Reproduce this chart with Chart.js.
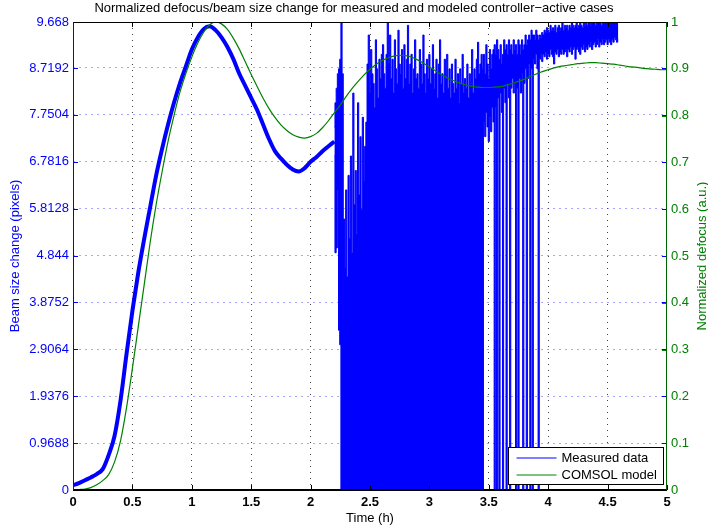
<!DOCTYPE html>
<html>
<head>
<meta charset="utf-8">
<title>Normalized defocus / beam size change</title>
<script src="https://cdn.jsdelivr.net/npm/chart.js@4.4.1/dist/chart.umd.min.js"></script>
<style>
  html, body { margin: 0; padding: 0; background: #fff; }
  canvas { display: block; }
</style>
</head>
<body>
<canvas id="defocusChart" width="708" height="526"></canvas>
<script>
// axis ticks
const timeTicks = [0, 0.5, 1, 1.5, 2, 2.5, 3, 3.5, 4, 4.5, 5];
const beamTicks = [0, 0.9688, 1.9376, 2.9064, 3.8752, 4.844, 5.8128, 6.7816, 7.7504, 8.7192, 9.668];
const defocusTicks = [0, 0.1, 0.2, 0.3, 0.4, 0.5, 0.6, 0.7, 0.8, 0.9, 1];

// measured beam size change (pixels), calm part up to 2.2 h
const measuredTime = [0, 0.05, 0.1, 0.15, 0.2, 0.25, 0.3, 0.35, 0.4, 0.45,
  0.5, 0.55, 0.6, 0.65, 0.7, 0.75, 0.8, 0.85, 0.9, 0.95,
  1, 1.05, 1.1, 1.15, 1.2, 1.25, 1.3, 1.35, 1.4, 1.45,
  1.5, 1.55, 1.6, 1.65, 1.7, 1.75, 1.8, 1.85, 1.9, 1.95,
  2, 2.05, 2.1, 2.15, 2.2];
const measuredBeam = [0.1, 0.14, 0.2, 0.26, 0.33, 0.43, 0.72, 1.12, 1.85, 2.8,
  3.7, 4.5, 5.2, 5.85, 6.5, 7.05, 7.55, 8.0, 8.4, 8.75,
  9.1, 9.35, 9.52, 9.58, 9.5, 9.35, 9.15, 8.9, 8.6, 8.35,
  8.1, 7.85, 7.55, 7.25, 7.0, 6.85, 6.72, 6.62, 6.58, 6.65,
  6.78, 6.88, 7.0, 7.1, 7.2];

// measured data after 2.2 h: [min, max] of the trace in each 0.01 h slot
const noisyStart = 2.2;
const noisyStep = 0.01;
const noisyRange = [
  // 2.20 - 2.26
  [6.9,7.5],[4.9,8.0],[5.0,8.3],[6.2,8.6],[3.3,8.7],[3.0,8.9],[0,9.67],
  // 2.27 - 2.47
  [0,8.6],[0,5.6],[0,4.6],[0,6.2],[0,4.4],[0,6.5],[0,5.2],[0,6.9],[0,4.9],[0,8.2],
  [0,5.9],[0,6.6],[0,5.3],[0,8.0],[0,6.1],[0,7.3],[0,5.8],[0,7.7],[0,6.4],[0,7.1],[0,7.6],
  // 2.48 - 2.60
  [0,8.8],[0,9.4],[0,8.2],[0,9.1],[0,8.6],[0,8.4],[0,7.9],[0,9.3],[0,8.7],[0,8.1],[0,8.9],[0,8.5],[0,9.0],
  // 2.61 - 2.70
  [0,9.2],[0,8.6],[0,8.3],[0,9.0],[0,9.67],[0,8.8],[0,9.4],[0,8.5],[0,8.9],[0,8.2],
  // 2.71 - 2.80
  [0,9.3],[0,8.7],[0,8.4],[0,9.5],[0,8.8],[0,8.6],[0,9.1],[0,8.3],[0,9.2],[0,8.5],
  // 2.81 - 2.90
  [0,8.9],[0,9.6],[0,8.4],[0,8.8],[0,9.0],[0,8.2],[0,8.7],[0,9.3],[0,8.5],[0,8.6],
  // 2.91 - 3.00
  [0,8.3],[0,9.1],[0,8.8],[0,8.4],[0,9.4],[0,8.6],[0,8.2],[0,8.9],[0,8.5],[0,9.0],
  // 3.01 - 3.10
  [0,8.4],[0,8.7],[0,9.2],[0,8.3],[0,8.6],[0,8.9],[0,8.1],[0,8.8],[0,9.3],[0,8.4],
  // 3.11 - 3.20
  [0,8.6],[0,8.2],[0,8.9],[0,8.5],[0,9.0],[0,8.3],[0,8.7],[0,8.1],[0,8.8],[0,8.4],
  // 3.21 - 3.30
  [0,8.2],[0,8.9],[0,8.3],[0,8.6],[0,8.0],[0,8.7],[0,8.4],[0,9.0],[0,8.2],[0,8.5],
  // 3.31 - 3.40
  [0,8.3],[0,8.8],[0,8.1],[0,8.6],[0,8.4],[0,9.1],[0,8.2],[0,8.7],[0,8.5],[0,8.9],
  // 3.41 - 3.44
  [0,9.25],[0,8.6],[0,8.8],[0,9.0],
  // 3.45 - 3.53
  [0,8.7],[7.6,9.0],[7.3,8.6],[7.8,9.2],[7.5,8.8],[7.2,8.5],[7.7,9.1],[7.4,8.7],[7.9,9.0],
  // 3.54 - 3.92
  [7.6,9.1],[0,9.2],[7.9,9.0],[0,9.3],[8.1,9.1],[0,8.9],[8.2,9.2],[7.8,8.8],[0,9.0],[8.3,9.3],
  [8.0,9.1],[0,9.2],[8.4,9.0],[8.1,9.3],[0,9.1],[8.3,9.2],[8.5,9.0],[8.2,9.3],[8.4,9.1],[0,9.2],
  [8.3,9.0],[0,9.3],[8.5,9.2],[8.2,9.0],[8.6,9.3],[0,9.1],[8.4,9.2],[8.7,9.4],[0,9.2],[8.5,9.3],
  [8.8,9.4],[0,9.3],[8.7,9.5],[0,9.4],[8.9,9.4],[8.8,9.3],[9.0,9.5],[8.7,9.4],[0,9.3],
  // 3.93 - 4.59
  [8.9,9.4],[9.0,9.35],[8.85,9.45],[9.0,9.4],[8.95,9.5],[9.05,9.45],[8.9,9.55],[9.0,9.5],[8.95,9.45],[9.1,9.6],
  [9.0,9.5],[8.95,9.55],[8.8,9.5],[9.05,9.6],[9.0,9.45],[9.1,9.55],[8.95,9.6],[9.05,9.5],[9.0,9.55],[9.1,9.65],
  [9.0,9.5],[9.05,9.6],[9.1,9.55],[8.95,9.6],[9.1,9.5],[9.05,9.6],[9.15,9.55],[9.0,9.65],[9.1,9.6],[9.15,9.55],
  [8.9,9.6],[9.1,9.65],[9.15,9.55],[9.05,9.6],[9.0,9.65],[9.15,9.6],[9.1,9.55],[9.2,9.65],[9.05,9.6],[9.15,9.67],
  [9.1,9.6],[9.2,9.65],[9.15,9.67],[9.25,9.6],[9.1,9.67],[9.2,9.65],[9.25,9.67],[9.15,9.6],[9.2,9.67],[9.3,9.65],
  [9.15,9.67],[9.25,9.67],[9.2,9.6],[9.3,9.67],[9.2,9.67],[9.25,9.65],[9.3,9.67],[9.2,9.67],[9.3,9.67],[9.25,9.65],
  [9.2,9.67],[9.3,9.67],[9.25,9.67],[9.35,9.67],[9.3,9.65],[9.25,9.67],[9.3,9.67]
];

// COMSOL model, normalized defocus
const modelTime = [0, 0.05, 0.1, 0.15, 0.2, 0.25, 0.3, 0.35, 0.4, 0.45,
  0.5, 0.55, 0.6, 0.65, 0.7, 0.75, 0.8, 0.85, 0.9, 0.95,
  1, 1.05, 1.1, 1.15, 1.2, 1.25, 1.3, 1.35, 1.4, 1.45,
  1.5, 1.55, 1.6, 1.65, 1.7, 1.75, 1.8, 1.85, 1.9, 1.95,
  2, 2.05, 2.1, 2.15, 2.2, 2.25, 2.3, 2.35, 2.4, 2.45,
  2.5, 2.55, 2.6, 2.65, 2.7, 2.75, 2.8, 2.85, 2.9, 2.95,
  3, 3.05, 3.1, 3.15, 3.2, 3.25, 3.3, 3.35, 3.4, 3.45,
  3.5, 3.55, 3.6, 3.65, 3.7, 3.75, 3.8, 3.85, 3.9, 3.95,
  4, 4.05, 4.1, 4.15, 4.2, 4.25, 4.3, 4.35, 4.4, 4.45,
  4.5, 4.55, 4.6, 4.65, 4.7, 4.75, 4.8, 4.85, 4.9, 4.95, 5];
const modelDefocus = [0, 0.001, 0.002, 0.005, 0.011, 0.02, 0.033, 0.06, 0.105, 0.175,
  0.26, 0.35, 0.44, 0.53, 0.61, 0.68, 0.745, 0.8, 0.85, 0.89,
  0.925, 0.955, 0.978, 0.994, 1.0, 0.996, 0.984, 0.965, 0.942, 0.915,
  0.888, 0.862, 0.837, 0.815, 0.796, 0.78, 0.768, 0.759, 0.754, 0.752,
  0.755, 0.762, 0.774, 0.789, 0.806, 0.823, 0.841, 0.858, 0.873, 0.887,
  0.899, 0.909, 0.917, 0.923, 0.927, 0.929, 0.928, 0.925, 0.919, 0.912,
  0.904, 0.896, 0.888, 0.881, 0.875, 0.87, 0.866, 0.863, 0.861, 0.86,
  0.86, 0.861, 0.862, 0.865, 0.869, 0.873, 0.878, 0.884, 0.889, 0.894,
  0.898, 0.902, 0.905, 0.907, 0.909, 0.911, 0.912, 0.913, 0.913, 0.912,
  0.911, 0.91, 0.908, 0.906, 0.904, 0.903, 0.901, 0.9, 0.899, 0.898, 0.898];

const BLUE = '#0000ff';
const GREEN = '#008000';
const FONT = '"Liberation Sans", Arial, Helvetica, sans-serif';

Chart.defaults.font.family = FONT;
Chart.defaults.font.size = 13;

// frame, inward ticks, right axis title and the legend box (matlab look)
const matlabFrame = {
  id: 'matlabFrame',
  afterDraw(chart) {
    const {ctx, chartArea: a, scales} = chart;
    const tick = 5;
    ctx.save();
    ctx.lineWidth = 1;

    // x ticks, bottom and top
    ctx.strokeStyle = '#000';
    timeTicks.forEach(v => {
      const px = Math.round(scales.x.getPixelForValue(v)) + 0.5;
      ctx.beginPath();
      ctx.moveTo(px, a.bottom); ctx.lineTo(px, a.bottom - tick);
      ctx.moveTo(px, a.top); ctx.lineTo(px, a.top + tick);
      ctx.stroke();
    });
    // right axis ticks (green), then left axis ticks on both sides (blue)
    ctx.strokeStyle = GREEN;
    defocusTicks.forEach(v => {
      const py = Math.round(scales.y1.getPixelForValue(v)) + 0.5;
      ctx.beginPath();
      ctx.moveTo(a.right, py); ctx.lineTo(a.right - tick, py);
      ctx.stroke();
    });
    ctx.strokeStyle = BLUE;
    beamTicks.forEach(v => {
      const py = Math.round(scales.y.getPixelForValue(v)) + 0.5;
      ctx.beginPath();
      ctx.moveTo(a.left, py); ctx.lineTo(a.left + tick, py);
      ctx.moveTo(a.right, py); ctx.lineTo(a.right - tick, py);
      ctx.stroke();
    });

    // box
    const L = Math.round(a.left) + 0.5, R = Math.round(a.right) - 0.5;
    const T = Math.round(a.top) + 0.5, B = Math.round(a.bottom);
    ctx.strokeStyle = '#000';
    ctx.beginPath(); ctx.moveTo(L, T); ctx.lineTo(R, T); ctx.stroke();
    ctx.lineWidth = 2;
    ctx.beginPath(); ctx.moveTo(L - 0.5, B); ctx.lineTo(R + 0.5, B); ctx.stroke();
    ctx.lineWidth = 1;
    ctx.strokeStyle = BLUE;
    ctx.beginPath(); ctx.moveTo(L, T); ctx.lineTo(L, B); ctx.stroke();
    ctx.strokeStyle = '#006400';
    ctx.beginPath(); ctx.moveTo(R, T); ctx.lineTo(R, B); ctx.stroke();

    // right axis title, reads bottom to top
    ctx.save();
    ctx.translate(702, (a.top + a.bottom) / 2);
    ctx.rotate(-Math.PI / 2);
    ctx.fillStyle = GREEN;
    ctx.font = '13px ' + FONT;
    ctx.textAlign = 'center';
    ctx.textBaseline = 'middle';
    ctx.fillText('Normalized defocus (a.u.)', 0, 0);
    ctx.restore();

    // legend
    const items = [chart.data.datasets[0], chart.data.datasets[3]];
    const bw = 155, bh = 37;
    const bx = Math.round(a.right - 4 - bw) + 0.5;
    const by = Math.round(a.bottom - 6 - bh) + 0.5;
    ctx.fillStyle = '#fff';
    ctx.fillRect(bx, by, bw, bh);
    ctx.strokeStyle = '#000';
    ctx.strokeRect(bx, by, bw, bh);
    ctx.font = '13px ' + FONT;
    ctx.textAlign = 'left';
    ctx.textBaseline = 'middle';
    items.forEach((ds, i) => {
      const ly = by + 10.5 + i * 17;
      ctx.strokeStyle = ds.borderColor;
      ctx.beginPath(); ctx.moveTo(bx + 8, ly); ctx.lineTo(bx + 48, ly); ctx.stroke();
      ctx.fillStyle = '#000';
      ctx.fillText(ds.label, bx + 53, ly);
    });
    ctx.restore();
  }
};

const edgeless = (color) => (c) =>
  (c.index === 0 || c.index === c.scale.ticks.length - 1) ? 'rgba(0,0,0,0)' : color;

const noisyPoints = (k) => noisyRange.map((r, i) => ({x: noisyStart + i * noisyStep, y: r[k]}));

new Chart(document.getElementById('defocusChart'), {
  type: 'line',
  data: {
    datasets: [
      {
        label: 'Measured data',
        data: measuredTime.map((t, i) => ({x: t, y: measuredBeam[i]})),
        borderColor: BLUE,
        borderWidth: 4,
        pointRadius: 0,
        cubicInterpolationMode: 'monotone',
        yAxisID: 'y',
        order: 3
      },
      {
        // upper edge of the noisy trace, filled down to the lower edge
        label: 'Measured data (max)',
        data: noisyPoints(1),
        borderColor: BLUE,
        backgroundColor: BLUE,
        borderWidth: 1,
        pointRadius: 0,
        stepped: 'middle',
        fill: '+1',
        yAxisID: 'y',
        order: 2
      },
      {
        label: 'Measured data (min)',
        data: noisyPoints(0),
        borderColor: BLUE,
        borderWidth: 1,
        pointRadius: 0,
        stepped: 'middle',
        fill: false,
        yAxisID: 'y',
        order: 1
      },
      {
        label: 'COMSOL model',
        data: modelTime.map((t, i) => ({x: t, y: modelDefocus[i]})),
        borderColor: GREEN,
        borderWidth: 1.2,
        pointRadius: 0,
        cubicInterpolationMode: 'monotone',
        yAxisID: 'y1',
        order: 0
      }
    ]
  },
  options: {
    responsive: false,
    animation: false,
    devicePixelRatio: 1,
    events: [],
    layout: { padding: 0 },
    plugins: {
      legend: { display: false },
      tooltip: { enabled: false },
      title: {
        display: true,
        text: 'Normalized defocus/beam size change for measured and modeled controller\u2212active cases',
        color: '#000',
        font: { size: 13, weight: 'normal' },
        padding: { top: 1, bottom: 5.4 }
      }
    },
    scales: {
      x: {
        type: 'linear',
        min: 0,
        max: 5,
        offset: false,
        afterBuildTicks: s => { s.ticks = timeTicks.map(v => ({value: v})); },
        afterFit: s => { s.height = 36; },
        ticks: {
          color: '#000',
          font: { weight: 'bold' },
          padding: 5,
          maxRotation: 0,
          autoSkip: false,
          callback: v => String(v)
        },
        grid: { drawTicks: false, color: edgeless('rgba(0,0,0,0.75)'), borderDash: [1, 5] },
        border: { display: false, dash: [1, 5] },
        title: { display: true, text: 'Time (h)', color: '#000', padding: { top: 0, bottom: 0 } }
      },
      y: {
        type: 'linear',
        position: 'left',
        min: 0,
        max: 9.668,
        afterBuildTicks: s => { s.ticks = beamTicks.map(v => ({value: v})); },
        afterFit: s => { s.width = 73; },
        ticks: { color: BLUE, padding: 4, autoSkip: false, callback: v => String(v) },
        grid: { drawTicks: false, color: edgeless('rgba(60,60,255,0.45)'), borderDash: [2, 4] },
        border: { display: false, dash: [2, 4] },
        title: { display: true, text: 'Beam size change (pixels)', color: BLUE, padding: { top: 8, bottom: 0 } }
      },
      y1: {
        type: 'linear',
        position: 'right',
        min: 0,
        max: 1,
        afterBuildTicks: s => { s.ticks = defocusTicks.map(v => ({value: v})); },
        afterFit: s => { s.width = 41; },
        ticks: { color: GREEN, padding: 4, autoSkip: false, callback: v => String(v) },
        grid: { display: false, drawTicks: false },
        border: { display: false }
      }
    }
  },
  plugins: [matlabFrame]
});
</script>
</body>
</html>
